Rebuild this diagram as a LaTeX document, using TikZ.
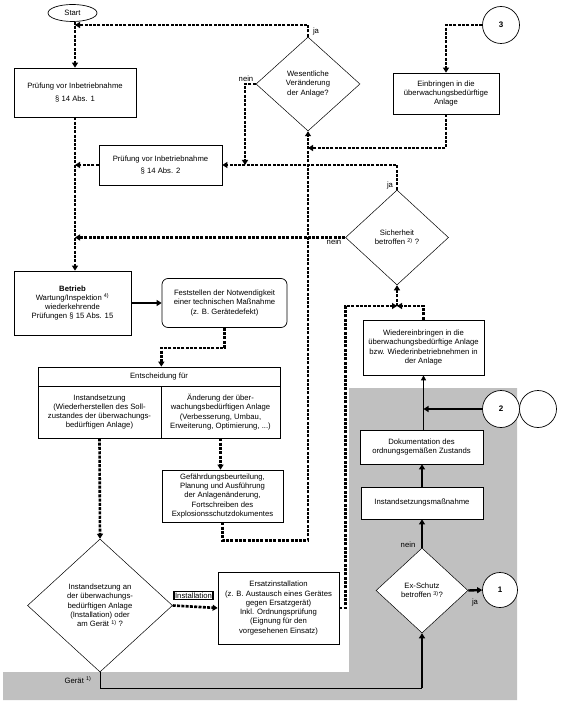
\documentclass[tikz,border=0pt]{standalone}
\usepackage{fontspec}
\setmainfont{Liberation Sans}
\usetikzlibrary{shapes.geometric,arrows.meta,positioning}
\definecolor{bggray}{RGB}{192,192,192}

\begin{document}
\begin{tikzpicture}[x=1pt,y=-1pt,
  every node/.style={font=\fontsize{7.7}{9.3}\selectfont,align=center,inner sep=1pt},
  sz/.style 2 args={minimum width=#1,minimum height=#2},
  box/.style={draw,fill=white,line width=0.7pt},
  rhomb/.style={diamond,draw,fill=white,line width=0.5pt,inner sep=0pt},
  circ/.style={circle,draw,fill=white,line width=0.7pt,minimum size=37pt,font=\fontsize{8}{9}\selectfont\bfseries},
  dl/.style={line width=2.6pt,dash pattern=on 3pt off 1.3pt,-{Triangle[length=5pt,width=6pt]}},
  tl/.style={line width=2.4pt,-{Triangle[length=5pt,width=6pt]}}]

\useasboundingbox (0,0) rectangle (561,708);
\fill[bggray] (349,388) -- (517,388) -- (517,700) -- (3,700) -- (3,672) -- (349,672) -- cycle;

\node[draw,ellipse,line width=0.7pt,inner sep=0pt,sz={49pt}{17pt}] (start) at (72.5,13) {Start};
\node[box,sz={122pt}{49pt}] (pruef1) at (75,92.5) {Prüfung vor Inbetriebnahme\\[3pt]§ 14 Abs. 1};
\node[rhomb,sz={104pt}{94pt}] (wesentl) at (308,84) {Wesentliche\\Veränderung\\der Anlage?};
\node[box,sz={106pt}{41pt}] (einbr) at (446,93.5) {Einbringen in die\\überwachungsbedürftige\\Anlage};
\node[circ] (k3) at (501,25) {3};
\node[box,sz={123pt}{40pt}] (pruef2) at (160.5,165) {Prüfung vor Inbetriebnahme\\[3pt]§ 14 Abs. 2};
\node[rhomb,sz={103pt}{95pt}] (sicher) at (397,237.5) {Sicherheit\\betroffen \textsuperscript{2)} ?};
\node[box,sz={117pt}{64pt}] (betrieb) at (72.5,303) {\textbf{Betrieb}\\Wartung/Inspektion \textsuperscript{4)}\\wiederkehrende\\Prüfungen § 15 Abs. 15};
\node[box,rounded corners=6pt,sz={125pt}{49pt}] (festst) at (224.5,303) {Feststellen der Notwendigkeit\\einer technischen Maßnahme\\(z. B. Gerätedefekt)};
\node[box,sz={242pt}{19pt}] (entsch) at (159,376.5) {Entscheidung für};
\node[box,sz={123pt}{52pt}] (entl) at (99.5,412) {Instandsetzung\\(Wiederherstellen des Soll-\\zustandes der überwachungs-\\bedürftigen Anlage)};
\node[box,sz={119pt}{52pt}] (entr) at (220.5,412) {Änderung der über-\\wachungsbedürftigen Anlage\\(Verbesserung, Umbau,\\Erweiterung, Optimierung, ...)};
\node[box,sz={121pt}{52pt}] (gefb) at (222.5,496) {Gefährdungsbeurteilung,\\Planung und Ausführung\\der Anlagenänderung,\\Fortschreiben des\\Explosionsschutzdokumentes};
\node[rhomb,sz={145pt}{133pt}] (instd) at (100,605.5) {Instandsetzung an\\der überwachungs-\\bedürftigen Anlage\\(Installation) oder\\am Gerät \textsuperscript{1)} ?};
\node[box,sz={121pt}{72pt}] (ersatz) at (278.5,608) {Ersatzinstallation\\(z. B. Austausch eines Gerätes\\gegen Ersatzgerät)\\Inkl. Ordnungsprüfung\\(Eignung für den\\vorgesehenen Einsatz)};
\node[draw,line width=1.6pt,inner sep=1pt] (install) at (193.5,595.5) {Installation};
\node[box,sz={121pt}{55pt}] (wieder) at (423.5,347.5) {Wiedereinbringen in die\\überwachungsbedürftige Anlage\\bzw. Wiederinbetriebnehmen in\\der Anlage};
\node[box,sz={123pt}{34pt}] (doku) at (421.5,447) {Dokumentation des\\ordnungsgemäßen Zustands};
\node[box,sz={122pt}{32pt}] (massn) at (422,503) {Instandsetzungsmaßnahme};
\node[rhomb,sz={92pt}{85pt}] (exsch) at (422,590.5) {Ex-Schutz\\betroffen \textsuperscript{3)}?};
\node[circ,minimum size=35pt] (k1) at (500,590) {1};
\node[circ] (k2) at (501,409) {2};
\node[circ] (k2b) at (538,409) {};

\coordinate (c1) at (75,25);
\coordinate (c2) at (245,165);
\coordinate (c3) at (308,148);
\coordinate (c4) at (397,306);
\coordinate (c6) at (422,688);

\draw[dl] (pruef1.north |- start.south) -- (pruef1.north);
\draw[dl] (wesentl.north) |- (c1);
\draw[dl] (wesentl.west) -| (c2);
\draw[dl] (sicher.north) |- (pruef2.east);
\draw[dl] (pruef2.west) -- (pruef2.west -| pruef1.south);
\draw[dl] (pruef1.south) -- (pruef1.south |- betrieb.north);
\draw[dl] (sicher.west) -- (sicher.west -| pruef1.south);
\draw[dl] (k3.west) -| (einbr.north);
\draw[dl] (einbr.south) |- (c3);
\draw[dl] (gefb.south) -- ++(0,18) -| (wesentl.south);
\draw[tl] (betrieb.east) -- (festst.west);
\draw[dl] (festst.south) -- ++(0,20) -| (entl.east |- entsch.north);
\draw[dl] (entl.south) -- (instd.north);
\draw[dl] (entr.south) -- (entr.south |- gefb.north);
\draw[dl] (instd.east) -- (ersatz.west);
\draw[dl] (ersatz.east) -- ++(6,0) |- (c4);
\draw[dl] (wieder.north) |- (c4);
\draw[dl] (c4) -- (sicher.south);
\draw[line width=0.8pt,-{Triangle[length=5pt,width=5pt]}] (wieder.south |- doku.north) -- (wieder.south);
\draw[tl] (k2.west) -- (k2.west -| wieder.south);
\draw[tl] (massn.north) -- (massn.north |- doku.south);
\draw[tl] (exsch.north) -- (massn.south);
\draw[tl] (exsch.east) -- (k1.west);
\draw[line width=0.8pt] (instd.south) |- (c6);
\draw[tl] (c6) -- (exsch.south);

\node (ja1) at (316,32) {ja};
\node (nein1) at (246,79) {nein};
\node (ja2) at (390,186) {ja};
\node (nein2) at (334,242) {nein};
\node (nein3) at (408,545) {nein};
\node (ja3) at (475,603) {ja};
\node (geraet) at (78,680) {Gerät \textsuperscript{1)}};

\end{tikzpicture}
\end{document}
